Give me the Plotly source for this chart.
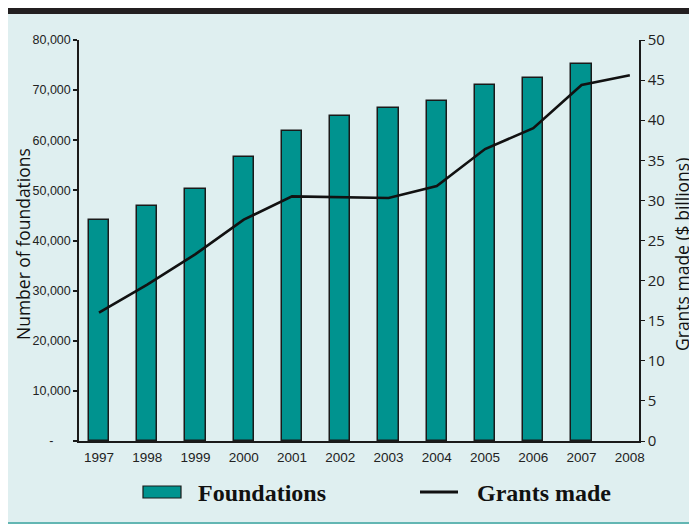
import plotly.graph_objects as go

years = ["1997", "1998", "1999", "2000", "2001", "2002",
         "2003", "2004", "2005", "2006", "2007", "2008"]
foundations = [44146, 46832, 50201, 56582, 61810, 64843,
               66398, 67736, 71097, 72477, 75187, None]
grants = [16.0, 19.5, 23.3, 27.6, 30.5, 30.4,
          30.3, 31.8, 36.4, 39.0, 44.4, 45.6]
left_ticks = [0, 10000, 20000, 30000, 40000, 50000, 60000, 70000, 80000]
left_labels = ["-\u00a0\u00a0\u00a0\u00a0\u00a0", "10,000", "20,000", "30,000",
               "40,000", "50,000", "60,000", "70,000", "80,000"]
right_ticks = [0, 5, 10, 15, 20, 25, 30, 35, 40, 45, 50]

TEAL = "#00938f"
PANEL = "#dfeff0"
INK = "#1a1a1a"
SANS = "Liberation Sans, Arial, sans-serif"

# page has an 8px body margin, so the figure is 8px smaller than the window
OFF = 8
W, H = 697 - OFF, 524 - OFF
# plot area in window pixels: x 79..639, y 40..441
L, R, T, B = 79 - OFF, 697 - 639, 40 - OFF, 524 - 441
PW, PH = W - L - R, H - T - B


def px_x(p):
    # window pixel -> paper x
    return (p - OFF - L) / PW


def px_y(p):
    # window pixel -> paper y
    return (H - B - (p - OFF)) / PH


idx = list(range(len(years)))
xr = [-0.414, 11.19]

fig = go.Figure()

fig.add_trace(go.Bar(
    x=idx, y=foundations, name="Foundations",
    marker=dict(color=TEAL, line=dict(color=INK, width=1.5)),
    width=0.42, yaxis="y", showlegend=False,
))
fig.add_trace(go.Scatter(
    x=idx, y=grants, name="Grants made", mode="lines",
    line=dict(color="#111111", width=2.6), yaxis="y2", showlegend=False,
))

shapes = [
    # black header bar and bottom rule
    dict(type="rect", xref="paper", yref="paper",
         x0=px_x(0), x1=px_x(W + 20), y0=px_y(14), y1=px_y(7),
         fillcolor="#231f20", line_width=0),
    dict(type="line", xref="paper", yref="paper",
         x0=px_x(0), x1=px_x(W + 20), y0=px_y(523), y1=px_y(523),
         line=dict(color="#3aa39f", width=1.5)),
    # legend swatches
    dict(type="rect", xref="paper", yref="paper",
         x0=px_x(143), x1=px_x(181), y0=px_y(498), y1=px_y(486),
         fillcolor=TEAL, line=dict(color=INK, width=1.2)),
    dict(type="line", xref="paper", yref="paper",
         x0=px_x(420), x1=px_x(458), y0=px_y(492), y1=px_y(492),
         line=dict(color="#111111", width=3)),
]

annotations = [
    dict(text="<b>Foundations</b>", x=px_x(196), y=px_y(493), xanchor="left"),
    dict(text="<b>Grants made</b>", x=px_x(475), y=px_y(493), xanchor="left"),
]
for a in annotations:
    a.update(xref="paper", yref="paper", yanchor="middle", showarrow=False,
             font=dict(family="Liberation Serif, serif", size=24, color="#111111"))

for text, xp, yp in [("Number of foundations", 23, 244),
                     ("Grants made ($ billions)", 682, 255)]:
    annotations.append(dict(
        text=text, xref="paper", yref="paper", x=px_x(xp), y=px_y(yp),
        xanchor="center", yanchor="middle", textangle=-90, showarrow=False,
        font=dict(family="Open Sans, sans-serif", size=17.5, color="#111111"),
    ))

fig.update_layout(
    width=W, height=H,
    margin=dict(l=L, r=R, t=T, b=B, autoexpand=False),
    paper_bgcolor=PANEL,
    plot_bgcolor="rgba(0,0,0,0)",
    showlegend=False,
    bargap=0,
    shapes=shapes,
    annotations=annotations,
    xaxis=dict(
        range=xr, tickvals=idx, ticktext=years, ticks="", automargin=False,
        showline=True, linecolor=INK, linewidth=1.5, showgrid=False,
        zeroline=False, tickfont=dict(family=SANS, size=13.5, color="#222"),
        ticklabelstandoff=3,
    ),
    xaxis2=dict(
        range=xr, overlaying="x", anchor="y", side="bottom", automargin=False,
        tickvals=[i + 0.5 for i in idx[:-1]], ticks="outside", ticklen=4,
        tickwidth=1.5, tickcolor=INK, showticklabels=False,
        showline=False, showgrid=False, zeroline=False,
    ),
    xaxis3=dict(
        range=xr, overlaying="x", anchor="y", side="bottom", automargin=False,
        tickvals=[i + 0.5 for i in idx[:-1]], ticks="inside", ticklen=4,
        tickwidth=1.5, tickcolor=INK, showticklabels=False,
        showline=False, showgrid=False, zeroline=False,
    ),
    yaxis=dict(
        range=[0, 80000], tickvals=left_ticks, ticktext=left_labels,
        ticks="outside", ticklen=4, tickwidth=1.5, tickcolor=INK, automargin=False,
        showline=True, linecolor=INK, linewidth=1.5, showgrid=False,
        zeroline=False, tickfont=dict(family=SANS, size=12.5, color="#222"),
    ),
    yaxis3=dict(
        range=[0, 80000], overlaying="y", anchor="x", side="left", automargin=False,
        tickvals=left_ticks, ticks="inside", ticklen=4, tickwidth=1.5,
        tickcolor=INK, showticklabels=False, showline=False,
        showgrid=False, zeroline=False,
    ),
    yaxis2=dict(
        range=[0, 50], tickvals=right_ticks, overlaying="y", side="right",
        anchor="x", ticks="outside", ticklen=4, tickwidth=1, tickcolor=INK,
        automargin=False,
        showline=True, linecolor=INK, linewidth=1.5, showgrid=False,
        zeroline=False, tickfont=dict(family="Open Sans, sans-serif", size=15, color="#222"),
    ),
)

fig.write_html("out.html")
